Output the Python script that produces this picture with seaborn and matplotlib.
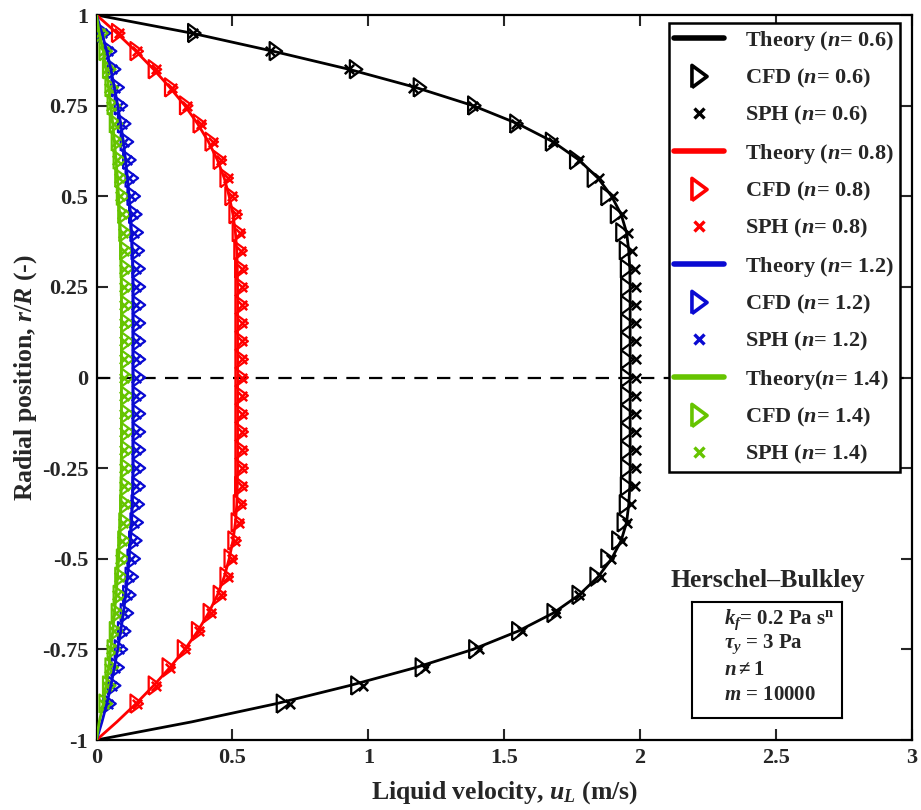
import numpy as np
import pandas as pd
import matplotlib
matplotlib.use("Agg")
import matplotlib.pyplot as plt
from matplotlib.lines import Line2D
import seaborn as sns

sns.set_style("ticks")
plt.rcParams["font.family"] = ["Liberation Serif", "DejaVu Serif"]
plt.rcParams["font.weight"] = "bold"
plt.rcParams["mathtext.fontset"] = "custom"
plt.rcParams["mathtext.rm"] = "Liberation Serif:bold"
plt.rcParams["mathtext.it"] = "Liberation Serif:italic:bold"
plt.rcParams["mathtext.bf"] = "Liberation Serif:bold"

# ---------------- data ----------------
r_theory = [1.0, 0.95, 0.9, 0.85, 0.8, 0.75, 0.7, 0.65, 0.6, 0.55, 0.5, 0.45, 0.4, 0.35, 0.3,
            0.25, 0.2, 0.15, 0.1, 0.05, 0.0, -0.05, -0.1, -0.15, -0.2, -0.25, -0.3, -0.35,
            -0.4, -0.45, -0.5, -0.55, -0.6, -0.65, -0.7, -0.75, -0.8, -0.85, -0.9, -0.95, -1.0]

theory_n06 = [0.0, 0.35, 0.65, 0.93, 1.175, 1.385, 1.55, 1.68, 1.775, 1.845, 1.895, 1.93, 1.95,
              1.958, 1.962, 1.963, 1.963, 1.963, 1.963, 1.963, 1.963, 1.963, 1.963, 1.963, 1.963,
              1.963, 1.962, 1.958, 1.95, 1.93, 1.895, 1.845, 1.775, 1.68, 1.55, 1.385, 1.175, 0.93,
              0.66, 0.35, 0.0]
theory_n08 = [0.0, 0.075, 0.145, 0.21, 0.27, 0.325, 0.372, 0.412, 0.445, 0.47, 0.488, 0.502, 0.511,
              0.516, 0.518, 0.519, 0.519, 0.519, 0.519, 0.519, 0.519, 0.519, 0.519, 0.519, 0.519,
              0.519, 0.518, 0.516, 0.511, 0.502, 0.488, 0.47, 0.445, 0.412, 0.372, 0.325, 0.27,
              0.21, 0.145, 0.075, 0.0]
theory_n12 = [0.0, 0.02, 0.038, 0.053, 0.066, 0.078, 0.089, 0.099, 0.107, 0.114, 0.12, 0.125, 0.129,
              0.132, 0.134, 0.135, 0.135, 0.135, 0.135, 0.135, 0.135, 0.135, 0.135, 0.135, 0.135,
              0.135, 0.134, 0.132, 0.129, 0.125, 0.12, 0.114, 0.107, 0.099, 0.089, 0.078, 0.066,
              0.053, 0.038, 0.02, 0.0]
theory_n14 = [0.0, 0.01, 0.025, 0.035, 0.045, 0.052, 0.06, 0.066, 0.072, 0.077, 0.081, 0.085, 0.088,
              0.09, 0.091, 0.092, 0.092, 0.092, 0.092, 0.092, 0.092, 0.092, 0.092, 0.092, 0.092,
              0.092, 0.091, 0.09, 0.088, 0.085, 0.081, 0.077, 0.072, 0.066, 0.06, 0.052, 0.045,
              0.035, 0.025, 0.01, 0.0]

r_markers = [0.95, 0.9, 0.85, 0.8, 0.75, 0.7, 0.65, 0.6, 0.55, 0.5, 0.45, 0.4, 0.35, 0.3, 0.25,
             0.2, 0.15, 0.1, 0.05, 0.0, -0.05, -0.1, -0.15, -0.2, -0.25, -0.3, -0.35, -0.4, -0.45,
             -0.5, -0.55, -0.6, -0.65, -0.7, -0.75, -0.8, -0.85, -0.9]

cfd_n06 = [0.36, 0.66, 0.955, 1.19, 1.39, 1.545, 1.676, 1.765, 1.83, 1.88, 1.915, 1.935, 1.948,
           1.952, 1.953, 1.953, 1.953, 1.953, 1.953, 1.953, 1.953, 1.953, 1.953, 1.953, 1.953,
           1.952, 1.948, 1.94, 1.92, 1.88, 1.84, 1.774, 1.682, 1.552, 1.394, 1.197, 0.96, 0.686]
sph_n06 = [0.355, 0.64, 0.93, 1.165, 1.385, 1.545, 1.68, 1.775, 1.85, 1.9, 1.935, 1.955, 1.97,
           1.98, 1.985, 1.985, 1.985, 1.985, 1.985, 1.985, 1.985, 1.985, 1.985, 1.985, 1.985,
           1.98, 1.968, 1.952, 1.932, 1.893, 1.855, 1.774, 1.69, 1.565, 1.406, 1.21, 0.98, 0.71]

cfd_n08 = [0.08, 0.148, 0.215, 0.275, 0.33, 0.38, 0.424, 0.454, 0.479, 0.497, 0.512, 0.524, 0.53,
           0.533, 0.534, 0.534, 0.534, 0.534, 0.534, 0.534, 0.534, 0.534, 0.534, 0.534, 0.534,
           0.533, 0.528, 0.52, 0.508, 0.494, 0.479, 0.454, 0.417, 0.374, 0.322, 0.266, 0.215, 0.148]
sph_n08 = [0.082, 0.15, 0.218, 0.278, 0.334, 0.384, 0.428, 0.458, 0.483, 0.5, 0.515, 0.527, 0.533,
           0.536, 0.537, 0.537, 0.537, 0.537, 0.537, 0.537, 0.537, 0.537, 0.537, 0.537, 0.537,
           0.536, 0.531, 0.523, 0.511, 0.497, 0.482, 0.457, 0.42, 0.377, 0.325, 0.269, 0.218, 0.15]

cfd_n12 = [0.028, 0.05, 0.065, 0.078, 0.09, 0.102, 0.112, 0.121, 0.13, 0.137, 0.143, 0.148,
           0.152, 0.155, 0.156, 0.156, 0.156, 0.156, 0.156, 0.156, 0.156, 0.156, 0.156, 0.156,
           0.156, 0.155, 0.152, 0.148, 0.143, 0.137, 0.13, 0.121, 0.112, 0.102, 0.09, 0.078,
           0.065, 0.048]
sph_n12 = [0.022, 0.044, 0.057, 0.069, 0.081, 0.093, 0.103, 0.112, 0.121, 0.128, 0.134, 0.139,
           0.143, 0.146, 0.147, 0.147, 0.147, 0.147, 0.147, 0.147, 0.147, 0.147, 0.147, 0.147,
           0.147, 0.146, 0.143, 0.139, 0.134, 0.128, 0.121, 0.112, 0.103, 0.093, 0.081, 0.069,
           0.057, 0.042]

cfd_n14 = [0.018, 0.034, 0.047, 0.056, 0.064, 0.072, 0.079, 0.086, 0.092, 0.098, 0.103, 0.107,
           0.11, 0.112, 0.113, 0.114, 0.114, 0.114, 0.114, 0.114, 0.114, 0.114, 0.114, 0.114,
           0.113, 0.112, 0.11, 0.107, 0.103, 0.098, 0.092, 0.086, 0.079, 0.072, 0.064, 0.056,
           0.047, 0.034]
sph_n14 = [0.012, 0.027, 0.039, 0.047, 0.055, 0.063, 0.07, 0.077, 0.083, 0.088, 0.093, 0.097,
           0.1, 0.102, 0.103, 0.103, 0.103, 0.103, 0.103, 0.103, 0.103, 0.103, 0.103, 0.103,
           0.103, 0.102, 0.1, 0.097, 0.093, 0.088, 0.083, 0.077, 0.07, 0.063, 0.055, 0.047,
           0.039, 0.027]

n_labels = ["0.6", "0.8", "1.2", "1.4"]
colors = ["#000000", "#ff0000", "#0a0ad2", "#66c400"]

x_ticks = [0, 0.5, 1, 1.5, 2, 2.5, 3]
x_ticklabels = ["0", "0.5", "1", "1.5", "2", "2.5", "3"]
y_ticks = [-1, -0.75, -0.5, -0.25, 0, 0.25, 0.5, 0.75, 1]
y_ticklabels = ["-1", "-0.75", "-0.5", "-0.25", "0", "0.25", "0.5", "0.75", "1"]

theories = [theory_n06, theory_n08, theory_n12, theory_n14]
cfds = [cfd_n06, cfd_n08, cfd_n12, cfd_n14]
sphs = [sph_n06, sph_n08, sph_n12, sph_n14]

# slim right-pointing open triangle (taller than wide, as in the reference)
tri = [(-0.68, -1.0), (0.68, 0.0), (-0.68, 1.0), (-0.68, -1.0)]

# ---------------- figure ----------------
fig = plt.figure(figsize=(9.21, 8.10), dpi=100)
ax = fig.add_axes([96.5 / 921, 70 / 810, 815.5 / 921, 725 / 810])

ax.axhline(0, color="black", lw=1.6, ls=(0, (6.0, 4.2)), zorder=1)

for th, cf, sp, c in zip(theories, cfds, sphs, colors):
    sns.scatterplot(x=cf, y=r_markers, marker=tri, s=175, color=c, linewidth=1.6, ax=ax,
                    legend=False, zorder=3)
    coll = ax.collections[-1]
    coll.set_facecolor("none")
    coll.set_edgecolor(c)
    sns.scatterplot(x=sp, y=r_markers, marker="x", s=45, color=c, linewidth=1.8, ax=ax,
                    legend=False, zorder=3)
    df = pd.DataFrame({"u": th, "r": r_theory})
    sns.lineplot(data=df, x="u", y="r", sort=False, estimator=None, color=c, lw=2.0, ax=ax,
                 zorder=4)

ax.set_xlim(0, 3)
ax.set_ylim(-1, 1)
ax.set_xticks(x_ticks)
ax.set_xticklabels(x_ticklabels)
ax.set_yticks(y_ticks)
ax.set_yticklabels(y_ticklabels)
ax.tick_params(direction="in", length=8, width=1.5, top=True, right=True, labelsize=16,
               pad=6)
for lab in ax.get_xticklabels() + ax.get_yticklabels():
    lab.set_fontweight("bold")
for sp_ in ax.spines.values():
    sp_.set_linewidth(1.6)
    sp_.set_color("black")

ax.set_xlabel(r"Liquid velocity, $u_L$ (m/s)", fontsize=18.5, fontweight="bold", labelpad=8)
ax.set_ylabel(r"Radial position, $r/R$ (-)", fontsize=18.5, fontweight="bold", labelpad=2)

# legend
handles, labels = [], []
for n, c in zip(n_labels, colors):
    gap = "" if n == "1.4" else " "
    handles.append(Line2D([], [], color=c, lw=4))
    labels.append(f"Theory{gap}($n$= {n})")
    handles.append(Line2D([], [], color=c, marker=tri, ls="none", markersize=16,
                          markerfacecolor="none", markeredgecolor=c, markeredgewidth=2.6))
    labels.append(f"CFD ($n$= {n})")
    handles.append(Line2D([], [], color=c, marker="x", ls="none", markersize=7,
                          markeredgewidth=2.4))
    labels.append(f"SPH ($n$= {n})")

leg = ax.legend(handles, labels, loc="upper right", bbox_to_anchor=(0.9853, 0.989),
                borderaxespad=0, handlelength=2.25, handletextpad=0.95,
                labelspacing=0.645, frameon=True, fancybox=False, borderpad=0.25,
                prop={"weight": "bold", "size": 16})
leg.get_frame().set_edgecolor("black")
leg.get_frame().set_linewidth(1.8)
leg.get_frame().set_alpha(1)
leg.set_zorder(10)

# annotation
fig.text(768 / 921, 1 - 580 / 810, "Herschel\u2013Bulkley", ha="center", va="center",
         fontsize=18.5, fontweight="bold")
box_ax = fig.add_axes([692 / 921, 1 - 718 / 810, 150 / 921, 116 / 810])
box_ax.set_xticks([])
box_ax.set_yticks([])
for sp_ in box_ax.spines.values():
    sp_.set_linewidth(1.5)
    sp_.set_color("black")
box_ax.patch.set_facecolor("white")
lines = [r"$k_f$= 0.2 Pa s$^{\rm n}$", r"$\tau_y$ = 3 Pa", r"$n \neq 1$", r"$m$ = 10000"]
for i, t in enumerate(lines):
    box_ax.text(0.215, 0.85 - i * 0.218, t, transform=box_ax.transAxes, ha="left", va="center",
                fontsize=15, fontweight="bold")

fig.savefig("out.png", dpi=100)
